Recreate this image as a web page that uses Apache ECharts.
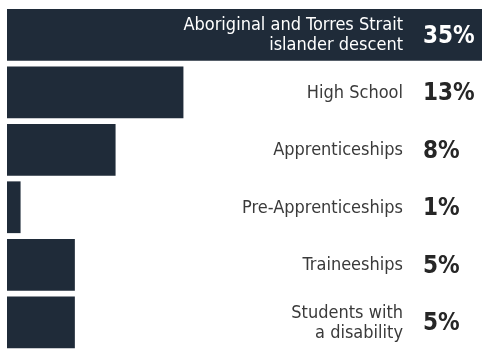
<!DOCTYPE html>
<html>
<head>
<meta charset="utf-8">
<script src="https://cdn.jsdelivr.net/npm/echarts@6/dist/echarts.min.js"></script>
<style>html,body{margin:0;padding:0;background:#fff;}#c{width:488px;height:351px;}</style>
</head>
<body>
<div id="c"></div>
<script>
var categories = ['Aboriginal and Torres Strait\nislander descent', 'High School', 'Apprenticeships', 'Pre-Apprenticeships', 'Traineeships', 'Students with\na disability'];
var values = [35, 13, 8, 1, 5, 5];
var axisMax = 35;

var chart = echarts.init(document.getElementById('c'), null, {renderer: 'canvas'});
function onBar(i) { return values[i] >= axisMax * 0.8; }
var nameData = categories.map(function (c, i) {
  return { value: axisMax, label: { color: onBar(i) ? '#ffffff' : '#3a3a3a' } };
});
var pctData = values.map(function (v, i) {
  return { value: axisMax, label: { color: onBar(i) ? '#ffffff' : '#262626' } };
});
chart.setOption({
  animation: false,
  grid: { left: 7, width: 475, top: 6, height: 351 },
  xAxis: { type: 'value', min: 0, max: axisMax, show: false },
  yAxis: { type: 'category', data: categories, inverse: true, show: false },
  series: [
    {
      type: 'bar', data: values, barCategoryGap: '10%', silent: true, z: 2,
      itemStyle: { color: '#1f2b39' }
    },
    {
      type: 'bar', data: nameData, barGap: '-100%', barCategoryGap: '10%', silent: true, z: 3,
      itemStyle: { color: 'rgba(0,0,0,0)' },
      label: {
        show: true, position: [396, '50%'], align: 'right', verticalAlign: 'middle',
        offset: [0, 1],
        fontFamily: 'DejaVu Sans Condensed', fontSize: 18, lineHeight: 20,
        formatter: function (p) { return categories[p.dataIndex]; }
      }
    },
    {
      type: 'bar', data: pctData, barGap: '-100%', barCategoryGap: '10%', silent: true, z: 4,
      itemStyle: { color: 'rgba(0,0,0,0)' },
      label: {
        show: true, position: [416, '50%'], align: 'left', verticalAlign: 'middle',
        offset: [0, 2],
        fontFamily: 'DejaVu Sans Condensed', fontWeight: 'bold', fontSize: 24,
        formatter: function (p) { return values[p.dataIndex] + '%'; }
      }
    }
  ]
});
</script>
</body>
</html>
